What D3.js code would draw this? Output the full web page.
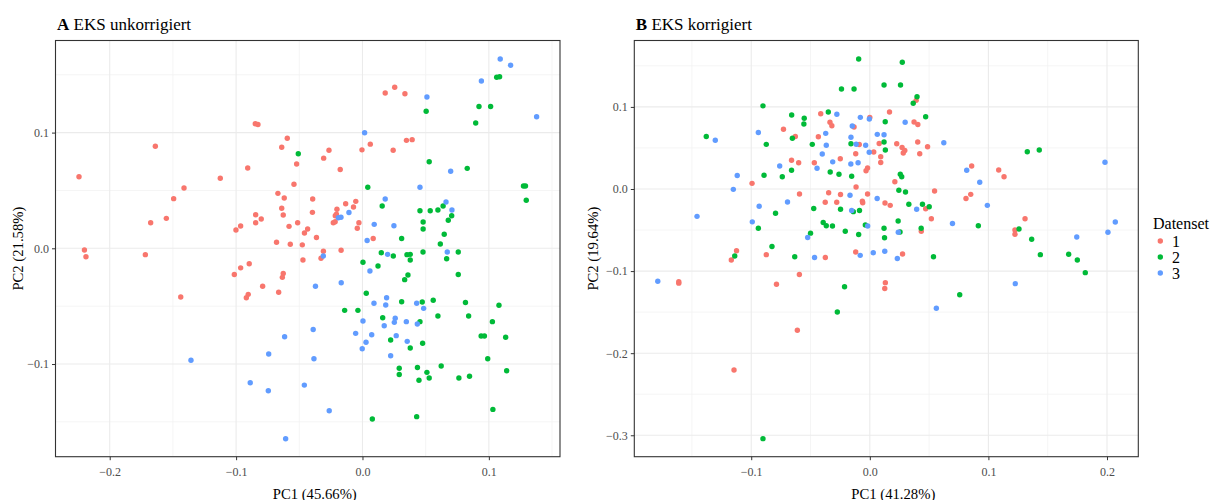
<!DOCTYPE html>
<html><head><meta charset="utf-8">
<script src="https://cdn.jsdelivr.net/npm/d3@7"></script>
<style>body{margin:0;background:#fff}svg text{font-family:"Liberation Serif","Times New Roman",serif}</style>
</head><body><svg id="c" width="1212" height="500"></svg>
<script>
const datasets = ["1","2","3"];
const colors = ["#F8766D","#00BA38","#619CFF"];
const titlesA = {letter:"A", text:" EKS unkorrigiert", xlab:"PC1 (45.66%)", ylab:"PC2 (21.58%)"};
const titlesB = {letter:"B", text:" EKS korrigiert", xlab:"PC1 (41.28%)", ylab:"PC2 (19.64%)"};
const ticksAx = [-0.2,-0.1,0.0,0.1], ticksAy = [-0.1,0.0,0.1];
const ticksBx = [-0.1,0.0,0.1,0.2], ticksBy = [-0.3,-0.2,-0.1,0.0,0.1];
const minorAx = [-0.15,-0.05,0.05,0.15], minorAy = [-0.15,-0.05,0.05,0.15];
const minorBx = [-0.15,-0.05,0.05,0.15], minorBy = [-0.25,-0.15,-0.05,0.05,0.15];

// Panel A, dataset 1
const a1 = [[-0.2243,0.0619],[-0.2200,-0.0015],[-0.2188,-0.0073],[-0.1718,-0.0055],[-0.1639,0.0882],[-0.1676,0.0221],[-0.1552,0.0259],[-0.1494,0.0429],[-0.1412,0.0521],[-0.1438,-0.0421],[-0.1125,0.0605],[-0.0908,0.0694],[-0.0848,0.1077],[-0.0827,0.1070],[-0.0595,0.0951],[-0.0639,0.0873],[-0.0521,0.0729],[-0.0542,0.0553],[-0.0669,0.0475],[-0.0619,0.0435],[-0.0394,0.0426],[-0.0639,0.0346],[-0.0627,0.0288],[-0.0845,0.0290],[-0.0801,0.0253],[-0.0845,0.0221],[-0.0964,0.0193],[-0.1001,0.0158],[-0.0396,0.0311],[-0.0581,0.0190],[-0.0513,0.0221],[-0.0434,0.0167],[-0.0459,0.0132],[-0.0364,0.0093],[-0.0680,0.0052],[-0.0571,0.0035],[-0.0476,0.0030],[-0.1014,-0.0226],[-0.0964,-0.0169],[-0.0896,-0.0134],[-0.0627,-0.0218],[-0.0634,-0.0251],[-0.0790,-0.0328],[-0.0904,-0.0398],[-0.0919,-0.0427],[-0.0663,-0.0380],[-0.0471,-0.0101],[-0.0309,-0.0026],[-0.0328,-0.0086],[-0.0169,-0.0017],[0.0180,0.1342],[0.0255,0.1392],[0.0336,0.1336],[-0.0265,0.0848],[-0.0307,0.0779],[-0.0176,0.0681],[-0.0004,0.0851],[0.0062,0.0900],[0.0243,0.0847],[0.0348,0.0933],[0.0393,0.0939],[-0.0133,0.0385],[-0.0053,0.0406],[-0.0071,0.0357],[-0.0202,0.0338],[-0.0206,0.0294],[-0.0215,0.0282],[-0.0231,0.0221],[-0.0216,0.0229],[-0.0028,0.0221],[-0.0041,0.0173],[0.0085,0.0085]];
// Panel A, dataset 2
const a2 = [[0.1062,0.1478],[0.1085,0.1483],[0.0922,0.1226],[0.1014,0.1226],[0.0504,0.1184],[0.0896,0.1083],[-0.0508,0.0817],[0.0528,0.0748],[0.0829,0.0691],[0.1274,0.0538],[0.1290,0.0538],[0.1296,0.0415],[0.0042,0.0528],[0.0156,0.0366],[0.0455,0.0324],[0.0536,0.0324],[0.0597,0.0331],[0.0638,0.0366],[0.0706,0.0282],[0.0679,0.0242],[0.0480,0.0227],[0.0480,0.0167],[0.0647,0.0121],[0.0310,0.0085],[0.0616,0.0037],[0.0149,-0.0038],[0.0244,-0.0067],[0.0352,-0.0055],[0.0378,-0.0052],[0.0479,-0.0032],[0.0758,-0.0032],[0.0378,-0.0101],[0.0666,-0.0090],[0.0004,-0.0121],[0.0123,-0.0153],[0.0360,-0.0231],[0.0334,-0.0271],[0.0758,-0.0226],[0.0030,-0.0389],[0.0310,-0.0462],[0.0473,-0.0464],[0.0560,-0.0449],[0.0815,-0.0468],[0.1080,-0.0492],[-0.0141,-0.0536],[-0.0036,-0.0536],[0.0160,-0.0600],[0.0455,-0.0634],[0.0597,-0.0585],[0.0840,-0.0585],[0.1028,-0.0634],[0.0939,-0.0758],[0.0965,-0.0758],[0.1133,-0.0769],[0.0223,-0.0793],[0.0476,-0.0821],[0.0378,-0.0862],[0.0991,-0.0954],[0.1141,-0.1058],[0.0623,-0.1017],[0.0291,-0.1037],[0.0435,-0.1030],[0.0291,-0.1091],[0.0510,-0.1072],[0.0528,-0.1121],[0.0447,-0.1140],[0.0763,-0.1121],[0.0847,-0.1106],[0.1032,-0.1392],[0.0429,-0.1455],[0.0078,-0.1475]];
// Panel A, dataset 3
const a3 = [[0.1090,0.1636],[0.1172,0.1582],[0.0941,0.1446],[0.0510,0.1308],[0.1378,0.1137],[0.0017,0.0999],[0.0698,0.0666],[0.0455,0.0528],[0.0180,0.0426],[-0.0107,0.0309],[-0.0191,0.0264],[-0.0170,0.0269],[0.0661,0.0400],[0.0708,0.0331],[0.0093,0.0207],[0.0249,0.0195],[0.0037,0.0067],[-0.0310,-0.0067],[0.0199,-0.0052],[0.0671,-0.0032],[0.0059,-0.0196],[-0.0372,-0.0328],[-0.0168,-0.0298],[0.0191,-0.0427],[0.0091,-0.0475],[0.0184,-0.0490],[0.0429,-0.0475],[0.0484,-0.0519],[0.0004,-0.0628],[0.0259,-0.0605],[0.0252,-0.0640],[0.0172,-0.0669],[0.0347,-0.0634],[0.0434,-0.0654],[-0.0054,-0.0735],[0.0073,-0.0747],[0.0267,-0.0755],[0.0028,-0.0812],[0.0354,-0.0804],[-0.0002,-0.0868],[0.0223,-0.0928],[-0.0390,-0.0702],[-0.0616,-0.0764],[-0.0742,-0.0914],[-0.0384,-0.0954],[-0.0888,-0.1162],[-0.0745,-0.1231],[-0.0460,-0.1182],[-0.1357,-0.0968],[-0.0608,-0.1646],[-0.0263,-0.1404]];
// Panel B, dataset 1
const b1 = [[-0.0414,0.0917],[-0.0336,0.0814],[-0.0320,0.0771],[-0.0133,0.0755],[0.0000,0.0871],[0.0166,0.0938],[0.0373,0.0816],[0.0405,0.0786],[0.0391,0.1080],[-0.0728,0.0727],[-0.0628,0.0639],[-0.0434,0.0637],[-0.0089,0.0542],[0.0079,0.0554],[0.0227,0.0552],[0.0404,0.0572],[0.0487,0.0515],[0.0272,0.0505],[0.0295,0.0469],[0.0282,0.0438],[0.0421,0.0429],[0.0033,0.0451],[-0.0119,0.0430],[0.0092,0.0392],[0.0092,0.0323],[-0.0660,0.0350],[-0.0600,0.0320],[-0.0468,0.0320],[-0.0249,0.0369],[-0.0019,0.0256],[-0.0032,0.0223],[0.0859,0.0280],[0.1087,0.0231],[0.1132,0.0150],[0.0211,0.0089],[0.0546,-0.0024],[0.0851,-0.0065],[0.0811,-0.0116],[0.0471,-0.0240],[0.0519,-0.0362],[0.1309,-0.0362],[0.1224,-0.0499],[0.1224,-0.0552],[0.0434,-0.0515],[-0.0993,0.0069],[-0.0593,-0.0061],[-0.0347,-0.0045],[-0.0247,-0.0067],[-0.0376,-0.0161],[-0.0279,-0.0161],[-0.0116,0.0024],[-0.0019,-0.0061],[-0.0063,-0.0150],[-0.0060,-0.0168],[0.0128,-0.0171],[0.0172,-0.0199],[-0.1124,-0.0752],[-0.1168,-0.0865],[-0.0873,-0.0800],[-0.0375,-0.0834],[-0.0119,-0.0767],[0.0276,-0.0792],[-0.1611,-0.1129],[-0.1611,-0.1147],[-0.0594,-0.1041],[-0.0787,-0.1161],[0.0131,-0.1141],[0.0126,-0.1212],[-0.0611,-0.1721],[-0.1145,-0.2205]];
// Panel B, dataset 2
const b2 = [[-0.0094,0.1583],[0.0274,0.1544],[-0.0239,0.1218],[-0.0133,0.1218],[0.0120,0.1267],[0.0259,0.1267],[0.0398,0.1123],[0.0366,0.1044],[-0.0901,0.1013],[-0.0659,0.0901],[-0.0553,0.0861],[-0.0556,0.0792],[-0.0350,0.0938],[0.0130,0.0820],[0.0471,0.0881],[-0.1379,0.0639],[-0.0873,0.0544],[-0.0653,0.0619],[-0.0485,0.0544],[-0.0159,0.0552],[0.0120,0.0572],[0.0131,0.0475],[-0.0892,0.0167],[-0.0738,0.0150],[-0.0660,0.0228],[-0.0334,0.0207],[-0.0260,0.0180],[-0.0153,0.0156],[0.0257,0.0179],[0.0269,0.0149],[0.0245,-0.0016],[0.0301,-0.0037],[0.0329,-0.0186],[0.0444,-0.0186],[0.0501,-0.0217],[-0.0473,-0.0238],[-0.0247,-0.0246],[-0.0139,-0.0276],[-0.0087,-0.0262],[-0.0795,-0.0296],[-0.0393,-0.0408],[-0.0367,-0.0448],[-0.0315,-0.0451],[-0.0038,-0.0438],[-0.0940,-0.0479],[-0.0207,-0.0515],[-0.0094,-0.0554],[0.0120,-0.0479],[0.0239,-0.0390],[0.0255,-0.0524],[0.0433,-0.0479],[-0.0500,-0.0538],[0.0124,-0.0593],[-0.0825,-0.0700],[-0.1139,-0.0816],[-0.0633,-0.0825],[0.0537,-0.0825],[-0.0213,-0.1191],[0.0758,-0.1289],[0.1328,0.0454],[0.1429,0.0475],[0.0915,-0.0447],[0.1258,-0.0487],[0.1365,-0.0613],[0.1438,-0.0800],[0.1677,-0.0795],[0.1750,-0.0865],[0.1817,-0.1019],[-0.0274,-0.1498],[-0.0901,-0.3041]];
// Panel B, dataset 3
const b3 = [[-0.0278,0.0910],[-0.0080,0.0873],[-0.0004,0.0853],[0.0298,0.0814],[-0.0148,0.0767],[-0.1303,0.0593],[-0.0940,0.0688],[-0.0372,0.0678],[-0.0159,0.0631],[0.0063,0.0666],[0.0120,0.0660],[-0.0367,0.0533],[-0.0115,0.0546],[-0.0035,0.0533],[0.0624,0.0564],[-0.0005,0.0447],[-0.0401,0.0426],[-0.0313,0.0331],[-0.0160,0.0305],[-0.0099,0.0320],[-0.0760,0.0280],[-0.0445,0.0253],[0.0817,0.0228],[-0.1118,0.0164],[-0.1151,-0.0004],[-0.0933,-0.0210],[-0.0694,-0.0158],[-0.1457,-0.0333],[-0.0991,-0.0400],[-0.0524,-0.0591],[-0.0167,-0.0076],[-0.0153,-0.0262],[0.0062,-0.0116],[-0.0018,-0.0451],[0.0240,-0.0526],[0.0395,-0.0247],[0.0697,-0.0420],[0.0927,0.0082],[0.0991,-0.0199],[-0.0466,-0.0834],[-0.0081,-0.0808],[0.0029,-0.0776],[0.0126,-0.0759],[0.0232,-0.0847],[0.1983,0.0325],[0.1745,-0.0585],[0.2008,-0.0527],[0.2070,-0.0402],[-0.1788,-0.1124],[0.1227,-0.1153],[0.0561,-0.1453]];

const svg = d3.select("#c");
const H = {top:40.5, bottom:456.7};

function panel(cfg){
  const x = d3.scaleLinear().domain(cfg.xd).range([cfg.left, cfg.right]);
  const y = d3.scaleLinear().domain(cfg.yd).range([H.bottom, H.top]);
  const g = svg.append("g");
  g.append("rect").attr("x",cfg.left).attr("y",H.top).attr("width",cfg.right-cfg.left).attr("height",H.bottom-H.top).attr("fill","#fff");
  // minor grid
  g.selectAll(".mx").data(cfg.minx).join("line").attr("x1",d=>x(d)).attr("x2",d=>x(d)).attr("y1",H.top).attr("y2",H.bottom).attr("stroke","#f2f2f2").attr("stroke-width",0.8);
  g.selectAll(".my").data(cfg.miny).join("line").attr("y1",d=>y(d)).attr("y2",d=>y(d)).attr("x1",cfg.left).attr("x2",cfg.right).attr("stroke","#f2f2f2").attr("stroke-width",0.8);
  // major grid
  g.selectAll(".gx").data(cfg.tx).join("line").attr("x1",d=>x(d)).attr("x2",d=>x(d)).attr("y1",H.top).attr("y2",H.bottom).attr("stroke","#ebebeb").attr("stroke-width",1.1);
  g.selectAll(".gy").data(cfg.ty).join("line").attr("y1",d=>y(d)).attr("y2",d=>y(d)).attr("x1",cfg.left).attr("x2",cfg.right).attr("stroke","#ebebeb").attr("stroke-width",1.1);
  // axes
  const fmt = d3.format(".1f");
  const ax = g.append("g").attr("transform",`translate(0,${H.bottom})`).call(d3.axisBottom(x).tickValues(cfg.tx).tickFormat(fmt).tickSize(3.5).tickPadding(4));
  const ay = g.append("g").attr("transform",`translate(${cfg.left},0)`).call(d3.axisLeft(y).tickValues(cfg.ty).tickFormat(fmt).tickSize(3.5).tickPadding(3));
  [ax,ay].forEach(a=>{a.select(".domain").remove();a.selectAll("line").attr("stroke","#333");a.selectAll("text").attr("fill","#4d4d4d").style("font-size","12px").style("font-family","Liberation Serif");});
  ax.selectAll("text").attr("dy","0.95em");
  // border
  g.append("rect").attr("x",cfg.left).attr("y",H.top).attr("width",cfg.right-cfg.left).attr("height",H.bottom-H.top).attr("fill","none").attr("stroke","#333").attr("stroke-width",1.1);
  // points
  cfg.data.forEach((arr,i)=>{
    g.append("g").selectAll("circle").data(arr).join("circle").attr("cx",d=>x(d[0])).attr("cy",d=>y(d[1])).attr("r",2.7).attr("fill",colors[i]);
  });
  // titles
  const t = g.append("text").attr("x",cfg.left+1.5).attr("y",30).style("font-size","17px").attr("fill","#000");
  t.append("tspan").style("font-weight","bold").text(cfg.t.letter);
  t.append("tspan").text(cfg.t.text);
  g.append("text").attr("x",(cfg.left+cfg.right)/2+7).attr("y",498.5).attr("text-anchor","middle").style("font-size","14.7px").text(cfg.t.xlab);
  g.append("text").attr("transform",`translate(${cfg.ylx},${(H.top+H.bottom)/2}) rotate(-90)`).attr("text-anchor","middle").style("font-size","14.7px").text(cfg.t.ylab);
}

panel({left:55.5,right:560,xd:[-0.2429,0.1563],yd:[-0.1801,0.1796],tx:ticksAx,ty:ticksAy,minx:minorAx,miny:minorAy,data:[a1,a2,a3],t:titlesA,ylx:23});
panel({left:634.3,right:1138.3,xd:[-0.1986,0.2264],yd:[-0.3261,0.1809],tx:ticksBx,ty:ticksBy,minx:minorBx,miny:minorBy,data:[b1,b2,b3],t:titlesB,ylx:598});

// legend
const lg = svg.append("g");
lg.append("text").attr("x",1153).attr("y",229).style("font-size","16px").text("Datenset");
const ly = d3.scaleBand().domain(datasets).range([233,281]);
lg.selectAll("circle").data(datasets).join("circle").attr("cx",1160.3).attr("cy",d=>ly(d)+ly.bandwidth()/2).attr("r",2.7).attr("fill",(d,i)=>colors[i]);
lg.selectAll(".lt").data(datasets).join("text").attr("x",1172).attr("y",d=>ly(d)+ly.bandwidth()/2+5.5).style("font-size","16px").text(d=>d);
</script></body></html>
